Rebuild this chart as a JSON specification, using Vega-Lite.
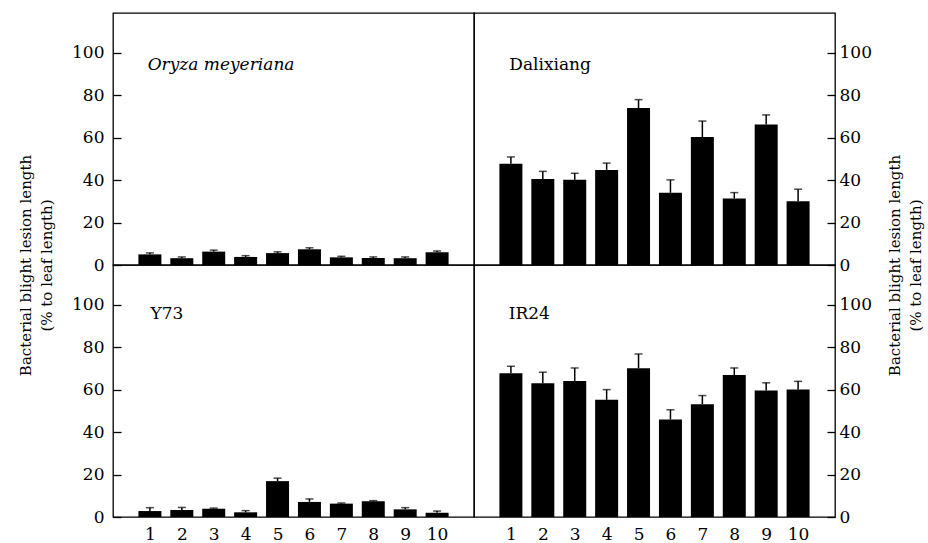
{
  "$schema": "https://vega.github.io/schema/vega-lite/v6.json",
  "padding": {"left": 17, "top": 12, "right": 0, "bottom": 0},
  "background": "white",
  "config": {
    "font": "DejaVu Serif",
    "text": {"font": "DejaVu Serif"},
    "view": {"stroke": "black", "strokeWidth": 1.3},
    "axis": {
      "labelFont": "DejaVu Serif", "labelFontSize": 17, "labelColor": "black",
      "titleFont": "DejaVu Serif", "titleFontSize": 15, "titleLineHeight": 21, "titleFontWeight": "normal", "titleColor": "black",
      "grid": false, "domain": false, "tickColor": "black", "tickWidth": 1.3
    }
  },
  "datasets": {
    "bars": [
      {"variety": "Oryza meyeriana", "line": 1, "mean": 5.0, "upper": 5.7},
      {"variety": "Oryza meyeriana", "line": 2, "mean": 3.2, "upper": 3.8},
      {"variety": "Oryza meyeriana", "line": 3, "mean": 6.3, "upper": 7.0},
      {"variety": "Oryza meyeriana", "line": 4, "mean": 3.8, "upper": 4.4},
      {"variety": "Oryza meyeriana", "line": 5, "mean": 5.6, "upper": 6.2},
      {"variety": "Oryza meyeriana", "line": 6, "mean": 7.4, "upper": 8.1},
      {"variety": "Oryza meyeriana", "line": 7, "mean": 3.6, "upper": 4.1},
      {"variety": "Oryza meyeriana", "line": 8, "mean": 3.3, "upper": 3.8},
      {"variety": "Oryza meyeriana", "line": 9, "mean": 3.2, "upper": 3.8},
      {"variety": "Oryza meyeriana", "line": 10, "mean": 6.0, "upper": 6.6},
      {"variety": "Dalixiang", "line": 1, "mean": 47.7, "upper": 50.9},
      {"variety": "Dalixiang", "line": 2, "mean": 40.5, "upper": 44.1},
      {"variety": "Dalixiang", "line": 3, "mean": 40.1, "upper": 43.2},
      {"variety": "Dalixiang", "line": 4, "mean": 44.8, "upper": 48.0},
      {"variety": "Dalixiang", "line": 5, "mean": 73.9, "upper": 77.9},
      {"variety": "Dalixiang", "line": 6, "mean": 34.0, "upper": 40.1},
      {"variety": "Dalixiang", "line": 7, "mean": 60.3, "upper": 67.8},
      {"variety": "Dalixiang", "line": 8, "mean": 31.3, "upper": 34.1},
      {"variety": "Dalixiang", "line": 9, "mean": 66.2, "upper": 70.7},
      {"variety": "Dalixiang", "line": 10, "mean": 30.0, "upper": 35.7},
      {"variety": "Y73", "line": 1, "mean": 2.8, "upper": 4.4},
      {"variety": "Y73", "line": 2, "mean": 3.3, "upper": 4.5},
      {"variety": "Y73", "line": 3, "mean": 3.9, "upper": 4.2},
      {"variety": "Y73", "line": 4, "mean": 2.2, "upper": 3.0},
      {"variety": "Y73", "line": 5, "mean": 16.9, "upper": 18.3},
      {"variety": "Y73", "line": 6, "mean": 7.1, "upper": 8.5},
      {"variety": "Y73", "line": 7, "mean": 6.3, "upper": 6.6},
      {"variety": "Y73", "line": 8, "mean": 7.4, "upper": 7.7},
      {"variety": "Y73", "line": 9, "mean": 3.6, "upper": 4.4},
      {"variety": "Y73", "line": 10, "mean": 2.0, "upper": 2.8},
      {"variety": "IR24", "line": 1, "mean": 67.7, "upper": 71.0},
      {"variety": "IR24", "line": 2, "mean": 63.0, "upper": 68.2},
      {"variety": "IR24", "line": 3, "mean": 64.1, "upper": 70.2},
      {"variety": "IR24", "line": 4, "mean": 55.2, "upper": 60.0},
      {"variety": "IR24", "line": 5, "mean": 70.1, "upper": 76.8},
      {"variety": "IR24", "line": 6, "mean": 45.9, "upper": 50.5},
      {"variety": "IR24", "line": 7, "mean": 53.1, "upper": 57.2},
      {"variety": "IR24", "line": 8, "mean": 66.9, "upper": 70.2},
      {"variety": "IR24", "line": 9, "mean": 59.6, "upper": 63.2},
      {"variety": "IR24", "line": 10, "mean": 60.0, "upper": 63.9}
    ]
  },
  "columns": 2,
  "spacing": 0,
  "bounds": "flush",
  "concat": [
    {
      "width": 361, "height": 252,
      "data": {"name": "bars"},
      "layer": [
        {
          "transform": [{"filter": "datum.variety === 'Oryza meyeriana'"}],
          "mark": {"type": "bar", "color": "black", "size": 23},
          "encoding": {
            "x": {"field": "line", "type": "quantitative", "scale": {"domain": [0, 11], "nice": false}, "axis": null},
            "y": {"field": "mean", "type": "quantitative", "scale": {"domain": [0, 118.7], "nice": false},
              "axis": {"orient": "left", "values": [0, 20, 40, 60, 80, 100], "tickSize": -8, "labelPadding": 17,
                "title": ["Bacterial blight lesion length", "(% to leaf length)"], "titleAnchor": "start", "titleAlign": "center", "titleAngle": -90, "titlePadding": 17}}
          }
        },
        {
          "transform": [{"filter": "datum.variety === 'Oryza meyeriana'"}],
          "mark": {"type": "rule", "color": "black", "strokeWidth": 1.5},
          "encoding": {"x": {"field": "line", "type": "quantitative"}, "y": {"field": "mean", "type": "quantitative"}, "y2": {"field": "upper"}}
        },
        {
          "transform": [{"filter": "datum.variety === 'Oryza meyeriana'"}],
          "mark": {"type": "tick", "color": "black", "orient": "horizontal", "size": 8, "thickness": 1.5},
          "encoding": {"x": {"field": "line", "type": "quantitative"}, "y": {"field": "upper", "type": "quantitative"}}
        },
        {
          "data": {"values": [{"label": "Oryza meyeriana"}]},
          "mark": {"type": "text", "align": "left", "baseline": "alphabetic", "fontSize": 17, "fontStyle": "italic", "color": "black"},
          "encoding": {"x": {"datum": 0.93}, "y": {"datum": 92}, "text": {"field": "label"}}
        }
      ]
    },
    {
      "width": 361, "height": 252,
      "data": {"name": "bars"},
      "layer": [
        {
          "transform": [{"filter": "datum.variety === 'Dalixiang'"}],
          "mark": {"type": "bar", "color": "black", "size": 23},
          "encoding": {
            "x": {"field": "line", "type": "quantitative", "scale": {"domain": [0, 11], "nice": false}, "axis": null},
            "y": {"field": "mean", "type": "quantitative", "scale": {"domain": [0, 118.7], "nice": false},
              "axis": {"orient": "right", "values": [0, 20, 40, 60, 80, 100], "tickSize": -8, "labelPadding": 12,
                "title": ["Bacterial blight lesion length", "(% to leaf length)"], "titleAnchor": "start", "titleAlign": "center", "titleAngle": -90, "titlePadding": 10}}
          }
        },
        {
          "transform": [{"filter": "datum.variety === 'Dalixiang'"}],
          "mark": {"type": "rule", "color": "black", "strokeWidth": 1.5},
          "encoding": {"x": {"field": "line", "type": "quantitative"}, "y": {"field": "mean", "type": "quantitative"}, "y2": {"field": "upper"}}
        },
        {
          "transform": [{"filter": "datum.variety === 'Dalixiang'"}],
          "mark": {"type": "tick", "color": "black", "orient": "horizontal", "size": 8, "thickness": 1.5},
          "encoding": {"x": {"field": "line", "type": "quantitative"}, "y": {"field": "upper", "type": "quantitative"}}
        },
        {
          "data": {"values": [{"label": "Dalixiang"}]},
          "mark": {"type": "text", "align": "left", "baseline": "alphabetic", "fontSize": 17, "color": "black"},
          "encoding": {"x": {"datum": 0.95}, "y": {"datum": 92}, "text": {"field": "label"}}
        }
      ]
    },
    {
      "width": 361, "height": 252,
      "data": {"name": "bars"},
      "layer": [
        {
          "transform": [{"filter": "datum.variety === 'Y73'"}],
          "mark": {"type": "bar", "color": "black", "size": 23},
          "encoding": {
            "x": {"field": "line", "type": "quantitative", "scale": {"domain": [0, 11], "nice": false},
              "axis": {"orient": "bottom", "values": [1, 2, 3, 4, 5, 6, 7, 8, 9, 10], "ticks": false, "labelPadding": 9, "labelFlush": false, "title": null}},
            "y": {"field": "mean", "type": "quantitative", "scale": {"domain": [0, 118.7], "nice": false},
              "axis": {"orient": "left", "values": [0, 20, 40, 60, 80, 100], "tickSize": -8, "labelPadding": 17, "title": null}}
          }
        },
        {
          "transform": [{"filter": "datum.variety === 'Y73'"}],
          "mark": {"type": "rule", "color": "black", "strokeWidth": 1.5},
          "encoding": {"x": {"field": "line", "type": "quantitative"}, "y": {"field": "mean", "type": "quantitative"}, "y2": {"field": "upper"}}
        },
        {
          "transform": [{"filter": "datum.variety === 'Y73'"}],
          "mark": {"type": "tick", "color": "black", "orient": "horizontal", "size": 8, "thickness": 1.5},
          "encoding": {"x": {"field": "line", "type": "quantitative"}, "y": {"field": "upper", "type": "quantitative"}}
        },
        {
          "data": {"values": [{"label": "Y73"}]},
          "mark": {"type": "text", "align": "left", "baseline": "alphabetic", "fontSize": 17, "color": "black"},
          "encoding": {"x": {"datum": 1.02}, "y": {"datum": 93.4}, "text": {"field": "label"}}
        }
      ]
    },
    {
      "width": 361, "height": 252,
      "data": {"name": "bars"},
      "layer": [
        {
          "transform": [{"filter": "datum.variety === 'IR24'"}],
          "mark": {"type": "bar", "color": "black", "size": 23},
          "encoding": {
            "x": {"field": "line", "type": "quantitative", "scale": {"domain": [0, 11], "nice": false},
              "axis": {"orient": "bottom", "values": [1, 2, 3, 4, 5, 6, 7, 8, 9, 10], "ticks": false, "labelPadding": 9, "labelFlush": false, "title": null}},
            "y": {"field": "mean", "type": "quantitative", "scale": {"domain": [0, 118.7], "nice": false},
              "axis": {"orient": "right", "values": [0, 20, 40, 60, 80, 100], "tickSize": -8, "labelPadding": 12, "title": null}}
          }
        },
        {
          "transform": [{"filter": "datum.variety === 'IR24'"}],
          "mark": {"type": "rule", "color": "black", "strokeWidth": 1.5},
          "encoding": {"x": {"field": "line", "type": "quantitative"}, "y": {"field": "mean", "type": "quantitative"}, "y2": {"field": "upper"}}
        },
        {
          "transform": [{"filter": "datum.variety === 'IR24'"}],
          "mark": {"type": "tick", "color": "black", "orient": "horizontal", "size": 8, "thickness": 1.5},
          "encoding": {"x": {"field": "line", "type": "quantitative"}, "y": {"field": "upper", "type": "quantitative"}}
        },
        {
          "data": {"values": [{"label": "IR24"}]},
          "mark": {"type": "text", "align": "left", "baseline": "alphabetic", "fontSize": 17, "color": "black"},
          "encoding": {"x": {"datum": 0.93}, "y": {"datum": 93.4}, "text": {"field": "label"}}
        }
      ]
    }
  ]
}
